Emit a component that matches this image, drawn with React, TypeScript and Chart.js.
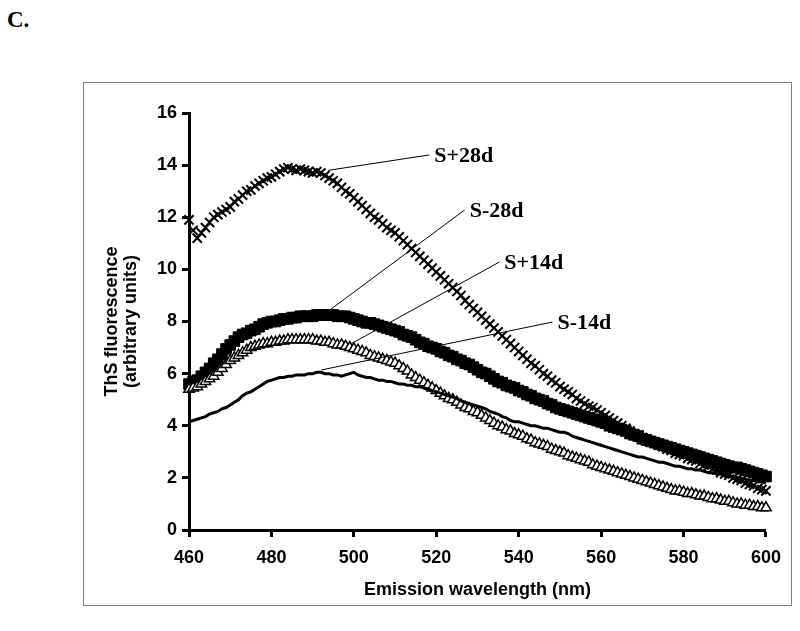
import React, { useEffect, useRef } from 'react';
import { Chart, registerables } from 'chart.js';

Chart.register(...registerables);

// Emission wavelength (nm), one reading per nm
const WAVELENGTHS: number[] = Array.from({ length: 141 }, (_, i) => 460 + i);

// S+28d (crosses)
const S_PLUS_28D: number[] = [
  11.9, 11.5, 11.2, 11.4, 11.6, 11.8, 12.0, 12.1, 12.2, 12.3,
  12.4, 12.6, 12.7, 12.85, 13.0, 13.05, 13.2, 13.3, 13.4, 13.5,
  13.55, 13.65, 13.75, 13.85, 13.9, 13.85, 13.8, 13.85, 13.8, 13.75,
  13.7, 13.75, 13.7, 13.6, 13.5, 13.4, 13.3, 13.15, 13.0, 12.9,
  12.75, 12.6, 12.45, 12.3, 12.15, 12.0, 11.9, 11.75, 11.6, 11.5,
  11.4, 11.25, 11.1, 10.95, 10.8, 10.65, 10.5, 10.35, 10.2, 10.05,
  9.9, 9.75, 9.6, 9.45, 9.3, 9.15, 9.0, 8.8, 8.65, 8.5,
  8.35, 8.2, 8.05, 7.9, 7.75, 7.6, 7.45, 7.3, 7.15, 7.0,
  6.85, 6.7, 6.55, 6.4, 6.3, 6.15, 6.0, 5.9, 5.75, 5.65,
  5.5, 5.4, 5.3, 5.2, 5.05, 4.95, 4.85, 4.75, 4.7, 4.6,
  4.5, 4.4, 4.3, 4.2, 4.1, 4.0, 3.9, 3.8, 3.7, 3.65,
  3.55, 3.5, 3.4, 3.35, 3.25, 3.2, 3.1, 3.05, 2.95, 2.9,
  2.85, 2.75, 2.7, 2.65, 2.55, 2.5, 2.45, 2.35, 2.3, 2.2,
  2.15, 2.1, 2.0, 1.95, 1.9, 1.8, 1.75, 1.7, 1.6, 1.55,
  1.5,
];

// S-28d (filled squares)
const S_MINUS_28D: number[] = [
  5.6, 5.7, 5.75, 5.9, 6.05, 6.2, 6.4, 6.55, 6.75, 6.95,
  7.1, 7.25, 7.4, 7.5, 7.55, 7.65, 7.7, 7.8, 7.9, 7.95,
  8.0, 8.0, 8.05, 8.1, 8.1, 8.15, 8.15, 8.2, 8.2, 8.2,
  8.2, 8.25, 8.25, 8.25, 8.25, 8.25, 8.2, 8.2, 8.2, 8.15,
  8.1, 8.05, 8.0, 7.95, 7.95, 7.9, 7.85, 7.8, 7.75, 7.7,
  7.65, 7.6, 7.5, 7.45, 7.4, 7.3, 7.2, 7.15, 7.05, 7.0,
  6.95, 6.85, 6.8, 6.7, 6.65, 6.55, 6.5, 6.4, 6.35, 6.25,
  6.15, 6.05, 6.0, 5.9, 5.8, 5.7, 5.65, 5.55, 5.5, 5.45,
  5.35, 5.3, 5.2, 5.15, 5.05, 5.0, 4.95, 4.85, 4.8, 4.7,
  4.65, 4.6, 4.55, 4.5, 4.45, 4.4, 4.35, 4.3, 4.25, 4.2,
  4.15, 4.1, 4.0, 3.95, 3.9, 3.85, 3.8, 3.7, 3.65, 3.6,
  3.5, 3.45, 3.4, 3.35, 3.3, 3.25, 3.2, 3.15, 3.1, 3.05,
  3.0, 2.95, 2.9, 2.85, 2.8, 2.75, 2.7, 2.65, 2.6, 2.55,
  2.5, 2.45, 2.4, 2.4, 2.35, 2.3, 2.25, 2.2, 2.15, 2.1,
  2.05,
];

// S+14d (open triangles)
const S_PLUS_14D: number[] = [
  5.4, 5.45, 5.5, 5.6, 5.7, 5.8, 5.9, 6.05, 6.2, 6.35,
  6.5, 6.6, 6.7, 6.8, 6.9, 7.0, 7.05, 7.1, 7.15, 7.15,
  7.2, 7.2, 7.25, 7.25, 7.3, 7.3, 7.3, 7.3, 7.3, 7.3,
  7.3, 7.25, 7.25, 7.2, 7.2, 7.15, 7.1, 7.1, 7.05, 7.0,
  6.95, 6.9, 6.85, 6.8, 6.7, 6.65, 6.6, 6.55, 6.5, 6.45,
  6.4, 6.3, 6.2, 6.1, 5.95, 5.85, 5.75, 5.65, 5.55, 5.45,
  5.35, 5.25, 5.15, 5.05, 5.0, 4.9, 4.8, 4.7, 4.65, 4.55,
  4.5, 4.4, 4.3, 4.2, 4.1, 4.0, 3.95, 3.85, 3.8, 3.7,
  3.65, 3.6, 3.5, 3.45, 3.35, 3.3, 3.25, 3.2, 3.1, 3.05,
  3.0, 2.95, 2.85, 2.8, 2.75, 2.7, 2.65, 2.6, 2.5, 2.45,
  2.4, 2.35, 2.3, 2.25, 2.2, 2.15, 2.1, 2.05, 2.0, 1.95,
  1.9, 1.85, 1.8, 1.75, 1.7, 1.65, 1.6, 1.55, 1.5, 1.5,
  1.45, 1.4, 1.4, 1.35, 1.3, 1.3, 1.25, 1.2, 1.2, 1.15,
  1.1, 1.1, 1.05, 1.0, 1.0, 0.95, 0.95, 0.9, 0.9, 0.85,
  0.85,
];

// S-14d (line)
const S_MINUS_14D: number[] = [
  4.15, 4.2, 4.25, 4.3, 4.35, 4.45, 4.5, 4.55, 4.65, 4.7,
  4.8, 4.9, 5.0, 5.15, 5.25, 5.3, 5.4, 5.5, 5.6, 5.7,
  5.75, 5.8, 5.85, 5.85, 5.9, 5.9, 5.95, 5.95, 5.95, 6.0,
  6.0, 6.05, 6.05, 6.0, 6.0, 5.95, 5.95, 5.9, 5.95, 6.0,
  6.05, 5.95, 5.9, 5.85, 5.85, 5.8, 5.75, 5.75, 5.7, 5.7,
  5.65, 5.6, 5.6, 5.55, 5.55, 5.5, 5.5, 5.45, 5.4, 5.35,
  5.3, 5.25, 5.2, 5.15, 5.1, 5.05, 4.95, 4.9, 4.85, 4.8,
  4.75, 4.7, 4.65, 4.55, 4.5, 4.45, 4.35, 4.3, 4.2, 4.15,
  4.15, 4.1, 4.05, 4.0, 4.0, 3.95, 3.9, 3.9, 3.85, 3.8,
  3.75, 3.75, 3.7, 3.6, 3.55, 3.5, 3.45, 3.4, 3.35, 3.3,
  3.25, 3.2, 3.15, 3.1, 3.05, 3.0, 2.95, 2.9, 2.85, 2.8,
  2.8, 2.75, 2.7, 2.65, 2.6, 2.6, 2.55, 2.5, 2.45, 2.45,
  2.4, 2.35, 2.35, 2.3, 2.3, 2.25, 2.2, 2.2, 2.15, 2.15,
  2.1, 2.05, 2.05, 2.0, 2.0, 1.95, 1.9, 1.9, 1.85, 1.85,
  1.8,
];

const X_TICKS = { min: 460, max: 600, step: 20 };
const Y_TICKS = { min: 0, max: 16, step: 2 };

// Leader-line labels (data units)
const LABEL_TEXT: string[] = ['S+28d', 'S-28d', 'S+14d', 'S-14d'];
const LEADER_FROM: [number, number][] = [
  [493.8, 13.8],
  [493.8, 8.4],
  [499.3, 7.14],
  [492.1, 6.14],
];
const LEADER_TO: [number, number][] = [
  [518.3, 14.39],
  [526.9, 12.28],
  [535.3, 10.28],
  [548.2, 7.98],
];

const SANS = "'Liberation Sans', Arial, sans-serif";
const SERIF = "'Liberation Serif', 'Times New Roman', serif";

const toXY = (vals: number[]) => vals.map((v, i) => ({ x: WAVELENGTHS[i], y: v }));

const leaderPlugin = {
  id: 'leaderLabels',
  afterDatasetsDraw(chart: any) {
    const { ctx, scales } = chart;
    const xs = scales.x;
    const ys = scales.y;
    ctx.save();
    ctx.strokeStyle = '#000';
    ctx.lineWidth = 1;
    ctx.fillStyle = '#000';
    ctx.font = `bold 22px ${SERIF}`;
    ctx.textAlign = 'left';
    ctx.textBaseline = 'middle';
    LABEL_TEXT.forEach((t, i) => {
      const x0 = xs.getPixelForValue(LEADER_FROM[i][0]);
      const y0 = ys.getPixelForValue(LEADER_FROM[i][1]);
      const x1 = xs.getPixelForValue(LEADER_TO[i][0]);
      const y1 = ys.getPixelForValue(LEADER_TO[i][1]);
      ctx.beginPath();
      ctx.moveTo(x0, y0);
      ctx.lineTo(x1, y1);
      ctx.stroke();
      ctx.fillText(t, x1 + 5, y1 + 1);
    });
    ctx.restore();
  },
};

export default function App() {
  const ref = useRef<HTMLCanvasElement | null>(null);

  useEffect(() => {
    if (!ref.current) return;
    const axisGrid = {
      display: true,
      drawOnChartArea: false,
      drawTicks: true,
      tickLength: 7,
      tickWidth: 3,
      tickColor: '#000',
    };
    const axisBorder = { display: true, color: '#000', width: 3 };
    const chart = new Chart(ref.current, {
      type: 'scatter',
      data: {
        datasets: [
          {
            label: 'S+28d',
            data: toXY(S_PLUS_28D),
            showLine: false,
            pointStyle: 'crossRot',
            pointRadius: 6.5,
            pointBorderWidth: 2,
            borderColor: '#000',
            backgroundColor: '#000',
            clip: false,
          },
          {
            label: 'S-14d',
            data: toXY(S_MINUS_14D),
            showLine: true,
            pointRadius: 0,
            borderWidth: 3,
            borderColor: '#000',
            tension: 0,
            clip: false,
          },
          {
            label: 'S+14d',
            data: toXY(S_PLUS_14D),
            showLine: false,
            pointStyle: 'triangle',
            pointRadius: 6,
            pointBorderWidth: 1.5,
            borderColor: '#000',
            backgroundColor: '#fff',
            clip: false,
          },
          {
            label: 'S-28d',
            data: toXY(S_MINUS_28D),
            showLine: false,
            pointStyle: 'rect',
            pointRadius: 7.5,
            pointBorderWidth: 1,
            borderColor: '#000',
            backgroundColor: '#000',
            clip: false,
          },
        ],
      },
      options: {
        responsive: false,
        animation: false,
        events: [],
        layout: { padding: { top: 30, right: 18, left: 0, bottom: 0 } },
        plugins: { legend: { display: false }, tooltip: { enabled: false } },
        scales: {
          x: {
            type: 'linear',
            min: X_TICKS.min,
            max: X_TICKS.max,
            ticks: {
              stepSize: X_TICKS.step,
              color: '#000',
              font: { family: SANS, size: 18, weight: 'bold' },
              padding: 10,
              maxRotation: 0,
            },
            grid: axisGrid,
            border: axisBorder,
            title: {
              display: true,
              text: 'Emission wavelength (nm)',
              color: '#000',
              font: { family: SANS, size: 18, weight: 'bold' },
              padding: { top: 0, bottom: 4 },
            },
            afterFit: (s: any) => {
              s.height = 75;
            },
          },
          y: {
            type: 'linear',
            min: Y_TICKS.min,
            max: Y_TICKS.max,
            ticks: {
              stepSize: Y_TICKS.step,
              color: '#000',
              font: { family: SANS, size: 18, weight: 'bold' },
              padding: 5,
            },
            grid: axisGrid,
            border: axisBorder,
            title: {
              display: true,
              text: ['ThS fluorescence', '(arbitrary units)'],
              color: '#000',
              font: { family: SANS, size: 18, weight: 'bold', lineHeight: 1.05 },
              padding: { top: 19, bottom: 0 },
            },
            afterFit: (s: any) => {
              s.width = 105;
            },
          },
        },
      },
      plugins: [leaderPlugin],
    } as any);
    return () => chart.destroy();
  }, []);

  return (
    <div>
      <div
        style={{
          position: 'absolute',
          left: 7,
          top: 8,
          font: `bold 23px ${SERIF}`,
          lineHeight: '23px',
          color: '#000',
        }}
      >
        C.
      </div>
      <div
        style={{
          position: 'absolute',
          left: 83,
          top: 82,
          width: 707,
          height: 522,
          border: '1px solid #808080',
          background: '#fff',
        }}
      >
        <canvas ref={ref} width={707} height={522} style={{ display: 'block' }} />
      </div>
    </div>
  );
}
